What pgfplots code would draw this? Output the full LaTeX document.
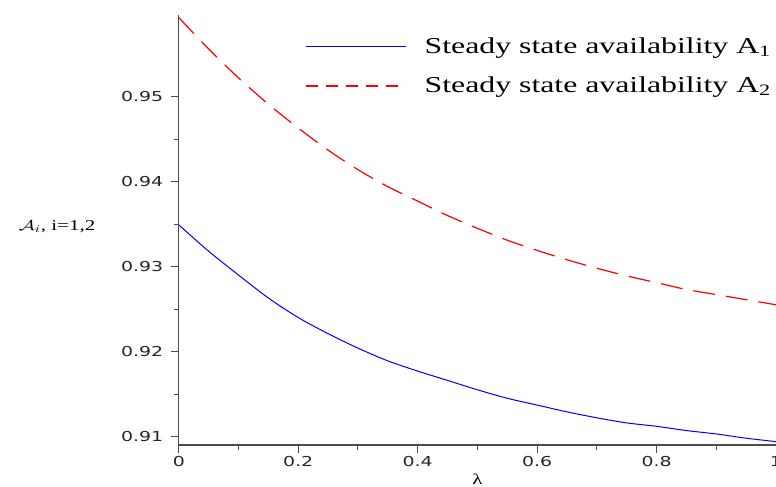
\documentclass[border=0pt]{standalone}
\usepackage{fontspec}
\usepackage{graphicx}
\usepackage{pgfplots}
\pgfplotsset{compat=1.18}
\setmainfont{Liberation Serif}
\newfontfamily\tickfont[FakeStretch=1.38]{DejaVu Sans}
\newfontfamily\legfont[FakeStretch=1.4]{Liberation Serif}

\begin{document}
\begin{tikzpicture}
\begin{axis}[
  scale only axis, width=597.2pt, height=430pt,
  xmin=0, xmax=1, ymin=0.909, ymax=0.9596,
  axis x line*=bottom, axis y line*=left,
  axis line style={-, draw=black!70, line width=1.2pt},
  xtick={0,0.2,0.4,0.6,0.8,1},
  ytick={0.91,0.92,0.93,0.94,0.95},
  minor x tick num=1, minor y tick num=1,
  tick align=outside, major tick length=8pt, minor tick length=5pt,
  tick style={black!70, line width=1pt},
  tick label style={font=\tickfont\fontsize{13.7}{16}\selectfont, text=black!85},
  /pgf/number format/assume math mode=true,
  yticklabel style={xshift=-4pt, /pgf/number format/fixed, /pgf/number format/fixed zerofill, /pgf/number format/precision=2},
  xticklabel style={/pgf/number format/fixed},
  scaled y ticks=false, scaled x ticks=false,
  xlabel={\legfont\fontsize{15}{18}\selectfont λ},
  ylabel={\legfont\fontsize{15}{17}\selectfont \scalebox{1.4}[1]{$\mathcal{A}_{i}$}, i=1,2},
  every axis y label/.style={at={(axis description cs:0,0.508)}, anchor=east, xshift=-80pt},
  legend style={draw=none, fill=none, at={(axis description cs:0.2113,0.949)}, anchor=north west,
    font=\legfont\fontsize{22.7}{26}\selectfont, inner sep=0pt, row sep=18pt, column sep=18pt,
    nodes={inner sep=0pt, text height=16pt, text depth=5pt}},
  legend image code/.code={\draw[#1] (0pt,1pt) -- (100pt,1pt);},
  legend cell align=left,
]
\addplot[blue, line width=1pt, smooth] coordinates {
  (0,0.9349) (0.05,0.9318) (0.1,0.9290) (0.15,0.9263) (0.2,0.9240) (0.25,0.9221)
  (0.3,0.9204) (0.35,0.9189) (0.4,0.9177) (0.45,0.9166) (0.5,0.9155) (0.55,0.9145)
  (0.6,0.9137) (0.65,0.9129) (0.7,0.9122) (0.75,0.9116) (0.8,0.9112) (0.85,0.9107)
  (0.9,0.9103) (0.95,0.9098) (1,0.9094)
};
\addlegendentry{Steady state availability A\textsubscript{1}}
\addplot[red, line width=1.2pt, smooth, dash pattern=on 22pt off 11pt,
  legend image code/.code={\draw[draw=red, color=red, line width=1.5pt, dash pattern=on 12pt off 8pt] (0pt,0.6pt) -- (100pt,0.6pt);}] coordinates {
  (0,0.9593) (0.05,0.9556) (0.1,0.9522) (0.15,0.9491) (0.2,0.9463) (0.25,0.9437)
  (0.3,0.9414) (0.35,0.9394) (0.4,0.9377) (0.45,0.9360) (0.5,0.9345) (0.55,0.9331)
  (0.6,0.9319) (0.65,0.9308) (0.7,0.9298) (0.75,0.9289) (0.8,0.9281) (0.85,0.9273)
  (0.9,0.9267) (0.95,0.9261) (1,0.9255)
};
\addlegendentry{Steady state availability A\textsubscript{2}}
\coordinate (O) at (rel axis cs:0,0);
\coordinate (E) at (rel axis cs:1,1);
\end{axis}
\pgfresetboundingbox
\path (O) ++(-178.8pt,-41pt) coordinate (BL);
\path (E) ++(0pt,15pt) coordinate (TR);
\useasboundingbox (BL) rectangle (TR);
\end{tikzpicture}
\end{document}
